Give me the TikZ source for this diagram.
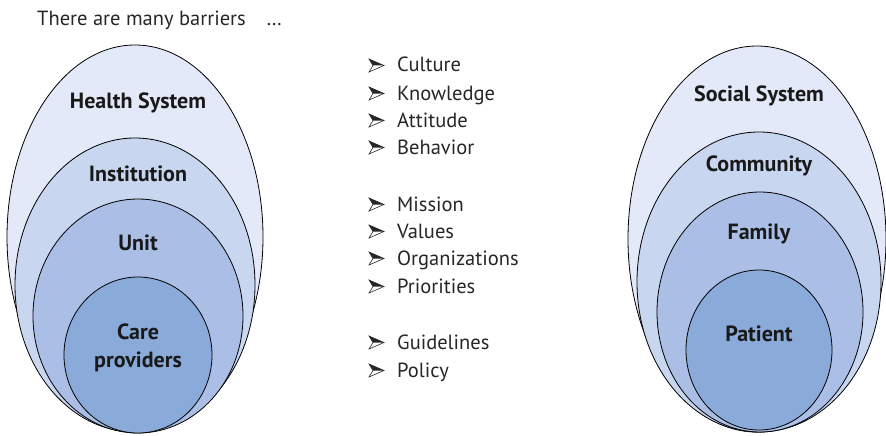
\documentclass[tikz,border=0pt]{standalone}
\usepackage{fontspec}
\setmainfont{PT Sans}
\usetikzlibrary{positioning}
\definecolor{ringA}{HTML}{E3E9F8}
\definecolor{ringB}{HTML}{C9D6F0}
\definecolor{ringC}{HTML}{ABBFE6}
\definecolor{ringD}{HTML}{8AABDA}

\begin{document}
\begin{tikzpicture}[x=1pt, y=-1pt,
    ring/.style={draw=black, line width=0.8pt},
    lbl/.style={font=\fontsize{22}{25}\selectfont\bfseries, text=black!90, align=center},
    item/.style={anchor=base west, font=\fontsize{20.5}{24}\selectfont, text=black!85, inner sep=0pt},
    bullet/.pic={
        \filldraw[fill=white, draw=black!85, line width=0.6pt, line join=miter]
            (-15,-6.5) -- (0,0) -- (-15,6.5) -- (-11,0) -- cycle;
        \fill[black!85] (-15,-6.5) -- (0,0) -- (-11,0) -- cycle;
    }]
    \useasboundingbox (0,0) rectangle (886,436);
    \node[anchor=west, inner sep=0pt, font=\fontsize{20.5}{24}\selectfont, text=black!85] (title) at (37,20) {There are many barriers\quad\dots};
    % care side
    \filldraw[ring, fill=ringA] (135,237) ellipse [x radius=128pt, y radius=192pt];
    \filldraw[ring, fill=ringB] (135,285) ellipse [x radius=120pt, y radius=147pt];
    \filldraw[ring, fill=ringC] (138,316) ellipse [x radius=105pt, y radius=117pt];
    \filldraw[ring, fill=ringD] (138,355) ellipse [x radius=74pt, y radius=78pt];
    \node[lbl] (health) at (138,103) {Health System};
    \node[lbl] (inst) at (138,174) {Institution};
    \node[lbl] (unit) at (138,243) {Unit};
    \node[lbl] (care) at (138,348) {Care\\[3pt]providers};
    % patient side
    \filldraw[ring, fill=ringA] (757,239) ellipse [x radius=129pt, y radius=193pt];
    \filldraw[ring, fill=ringB] (759,282) ellipse [x radius=122pt, y radius=150pt];
    \filldraw[ring, fill=ringC] (760,312) ellipse [x radius=103pt, y radius=120pt];
    \filldraw[ring, fill=ringD] (759,350) ellipse [x radius=73pt, y radius=80pt];
    \node[lbl] (social) at (759,96) {Social System};
    \node[lbl] (comm) at (759,166) {Community};
    \node[lbl] (family) at (759,234) {Family};
    \node[lbl] (patient) at (759,334) {Patient};
    % barrier lists (baselines)
    \node[item] (culture) at (397,72) {Culture};
    \node[item] (know) at (397,100) {Knowledge};
    \node[item] (attitude) at (397,127) {Attitude};
    \node[item] (behav) at (397,154) {Behavior};
    \node[item] (mission) at (397,211) {Mission};
    \node[item] (values) at (397,238) {Values};
    \node[item] (org) at (397,265) {Organizations};
    \node[item] (prior) at (397,293) {Priorities};
    \node[item] (guide) at (397,349) {Guidelines};
    \node[item] (policy) at (397,377) {Policy};
    \foreach \n in {culture,know,attitude,behav,mission,values,org,prior,guide,policy}
        \pic at ([xshift=-13pt, yshift=6.5pt]\n.base west) {bullet};
\end{tikzpicture}
\end{document}
